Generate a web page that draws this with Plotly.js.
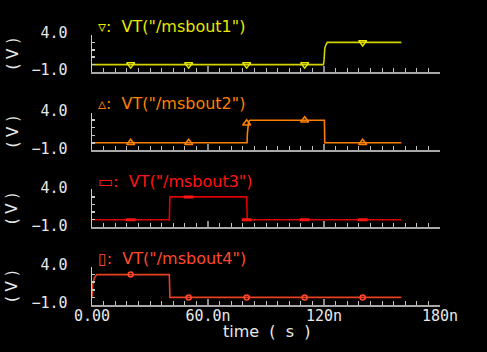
<!DOCTYPE html>
<html><head><meta charset="utf-8">
<script src="https://cdn.plot.ly/plotly-3.0.1.min.js"></script>
<style>html,body{margin:0;padding:0;background:#000;}#c{width:487px;height:352px;}</style>
</head><body><div id="c"></div>
<script>
// time in seconds, voltage in volts
const t1 = [0, 119.7e-9, 120.0e-9, 120.4e-9, 120.9e-9, 121.7e-9, 160e-9];
const v1 = [0, 0, 0.5, 2.2, 2.6, 3.0, 3.0];
const t2 = [0, 80.2e-9, 80.4e-9, 81.0e-9, 81.8e-9, 120.2e-9, 120.4e-9, 160e-9];
const v2 = [0, 0, 1.3, 2.8, 3.0, 3.0, 0, 0];
const t3 = [0, 40.0e-9, 40.3e-9, 80.0e-9, 80.3e-9, 160e-9];
const v3 = [0, 0, 3.0, 3.0, 0, 0];
const t4 = [0, 0.35e-9, 1.2e-9, 2.4e-9, 40.0e-9, 40.3e-9, 160e-9];
const v4 = [0, 1.7, 2.55, 3.0, 3.0, 0, 0];
// marker samples
const mt = [20e-9, 50e-9, 80e-9, 110e-9, 140e-9];
const m1 = [0, 0, 0, 0, 3.0];
const m2 = [0, 0, 2.6, 3.0, 0];
const m3 = [0, 3.0, 0, 0, 0];
const m4 = [3.0, 0, 0, 0, 0];
const names = ['VT("/msbout1")', 'VT("/msbout2")', 'VT("/msbout3")', 'VT("/msbout4")'];
const glyphs = ['▿', '▵', '▭', '▯'];
const yTickVals = [-1, 0, 1, 2, 3, 4];
const yTickText = ['−1.0', '', '', '', '', '4.0'];
const xTickLabelsFmt = '.3s';

const lineCols = ['#d4d400', '#ff8000', '#e00000', '#e84020'];
const titleCols = ['#e8e800', '#ff8000', '#ff1414', '#ff4a2a'];
const symbols = ['triangle-down-open', 'triangle-up-open', 'line-ew-open', 'circle-open'];
const T = [t1, t2, t3, t4], V = [v1, v2, v3, v4], M = [m1, m2, m3, m4];

// panel pixel geometry (top, bottom) within plot area spanning 35..305
const panels = [[35, 72], [112.7, 150.3], [189.3, 227.3], [267, 305]];
const top0 = 35, bot0 = 305, H = bot0 - top0;
const titleY = [26.5, 103, 181.5, 258.5];

const data = [];
const layout = {
  width: 487, height: 352,
  paper_bgcolor: '#000', plot_bgcolor: '#000',
  margin: {l: 92, r: 47, t: 35, b: 47},
  showlegend: false,
  font: {family: 'DejaVu Sans', color: '#e8e8e8', size: 15},
  annotations: []
};
for (let i = 0; i < 4; i++) {
  const xa = i === 0 ? 'x' : 'x' + (i + 1);
  const ya = i === 0 ? 'y' : 'y' + (i + 1);
  data.push({x: T[i], y: V[i], xaxis: xa, yaxis: ya, mode: 'lines',
    line: {color: lineCols[i], width: 1.6}, hoverinfo: 'skip'});
  const mk = {color: titleCols[i], size: i === 2 ? 7 : (i === 3 ? 5 : 7),
    line: {color: titleCols[i], width: i === 2 ? 3 : 1.5}};
  data.push({x: mt, y: M[i], xaxis: xa, yaxis: ya, mode: 'markers',
    marker: Object.assign({symbol: symbols[i]}, mk), hoverinfo: 'skip'});
  const p = panels[i];
  const dom = [(bot0 - p[1]) / H, (bot0 - p[0]) / H];
  const xk = i === 0 ? 'xaxis' : 'xaxis' + (i + 1);
  const yk = i === 0 ? 'yaxis' : 'yaxis' + (i + 1);
  layout[xk] = {
    anchor: ya, domain: [0, 1], range: [0, 180e-9],
    tickmode: 'linear', tick0: 0, dtick: 60e-9, tickformat: xTickLabelsFmt,
    ticks: 'inside', ticklen: 6, tickcolor: '#8a8a8a', tickwidth: 1.5,
    minor: {dtick: 6e-9, ticks: 'inside', ticklen: 4, tickcolor: '#c0c0c0', tickwidth: 1},
    showline: true, linecolor: '#a8a8a8', linewidth: 1.5,
    showgrid: false, zeroline: false, showticklabels: i === 3,
    ticklabelstandoff: -4,
    tickfont: {family: 'DejaVu Sans Mono', size: 15, color: '#e8e8e8'},
    fixedrange: true
  };
  if (i > 0) layout[xk].matches = 'x';
  layout[yk] = {
    anchor: xa, domain: dom, range: [-1, 4],
    tickmode: 'array', tickvals: yTickVals, ticktext: yTickText,
    ticks: 'inside', ticklen: 3, tickcolor: '#c8c8c8', tickwidth: 1.5,
    showline: true, linecolor: '#c8c8c8', linewidth: 1.5,
    showgrid: false, zeroline: false,
    ticklabelstandoff: 20, ticklabelshift: -2,
    tickfont: {family: 'DejaVu Sans Mono', size: 15, color: '#e8e8e8'},
    fixedrange: true
  };
  layout.annotations.push({
    xref: 'paper', yref: 'paper', x: 0.012, y: (bot0 - titleY[i]) / H,
    xanchor: 'left', yanchor: 'middle', showarrow: false,
    text: glyphs[i] + ':  ' + names[i],
    font: {family: 'DejaVu Sans', size: 16, color: titleCols[i]}
  });
  layout.annotations.push({
    xref: 'paper', yref: 'paper', x: (12 - 92) / 348, y: (bot0 - (p[0] + p[1]) / 2) / H,
    xanchor: 'center', yanchor: 'middle', showarrow: false, textangle: -90,
    text: '( V )', font: {family: 'DejaVu Sans', size: 15, color: '#e8e8e8'}
  });
}
layout.annotations.push({
  xref: 'paper', yref: 'paper', x: (266 - 92) / 348, y: (bot0 - 331) / H,
  xanchor: 'center', yanchor: 'middle', showarrow: false,
  text: 'time  (  s  )', font: {family: 'DejaVu Sans', size: 16, color: '#e8e8e8'}
});
Plotly.newPlot('c', data, layout, {displayModeBar: false, staticPlot: true});
</script></body></html>
